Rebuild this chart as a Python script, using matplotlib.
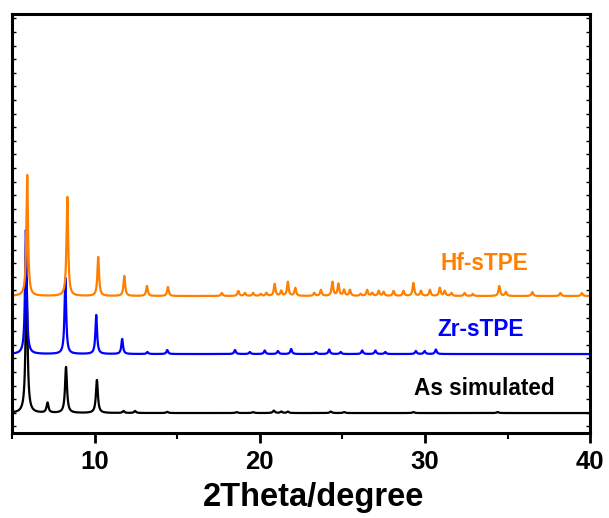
import numpy as np
import matplotlib
matplotlib.use("Agg")
import matplotlib.pyplot as plt

# ---- data (peak positions in 2theta, relative intensities) ----
sim_pos = [5.88, 7.15, 8.27, 10.14, 11.75, 12.45, 14.4, 18.6, 19.6, 20.85, 21.3, 21.7, 24.3, 25.1, 29.3, 34.4]
sim_int = [135, 10, 46, 33, 2, 2, 1.2, 1, 1, 2.5, 1.5, 1.5, 1.5, 1, 1, 1]

zr_pos = [5.84, 8.23, 10.1, 11.67, 13.2, 14.4, 18.5, 19.4, 20.3, 21.1, 21.9, 23.4, 24.2, 24.9, 26.2, 27.0, 27.6, 29.45, 29.98, 30.66]
zr_int = [124, 76, 39, 15, 2, 4, 4, 2, 3.5, 3, 5, 2, 4.5, 2, 3.5, 3.5, 2, 3, 3, 4.5]

hf_pos = [5.92, 8.35, 10.22, 11.8, 13.17, 14.44, 17.7, 18.7, 19.1, 19.6, 20.05, 20.4, 20.9, 21.3, 21.7, 22.15,
          23.3, 23.7, 24.4, 24.76, 25.1, 25.46, 26.1, 26.5, 26.8, 27.2, 27.5, 28.1, 28.7, 29.3, 29.76, 30.3,
          30.9, 31.2, 31.6, 32.4, 32.9, 34.5, 34.9, 36.5, 38.2, 39.5]
hf_int = [121, 99, 39, 20, 10, 9, 3, 5, 3, 3, 2, 3, 12, 5, 14, 8,
          3, 6, 14, 12, 6, 6, 2, 6, 3, 5, 4, 5, 5, 13, 5, 6,
          8, 5, 3, 3, 2, 10, 4, 4, 3, 3]

baselines = {"sim": 20, "zr": 79, "hf": 137}
labels = ["As simulated", "Zr-sTPE", "Hf-sTPE"]
colors = ["#000000", "#0000FF", "#FF8000"]

x = np.linspace(5, 40, 7001)

def pattern(pos, inten, hw):
    y = np.zeros_like(x)
    for p, h in zip(pos, inten):
        y += h * hw**2 / ((x - p)**2 + hw**2)
    return y

fig = plt.figure(figsize=(6.09, 5.18), dpi=100)
ax = fig.add_axes([0.0197, 0.164, 0.9493, 0.809])

ax.plot(x, baselines["sim"] + pattern(sim_pos, sim_int, 0.07), color=colors[0], lw=1.6)
ax.plot(x, baselines["zr"] + pattern(zr_pos, zr_int, 0.06), color=colors[1], lw=1.6)
ax.plot(x, baselines["hf"] + pattern(hf_pos, hf_int, 0.06), color=colors[2], lw=1.6)

font = "Liberation Sans"
ax.text(33.6, 45, labels[0], color=colors[0], fontsize=16.3, fontweight="bold", family=font, ha="center", va="center")
ax.text(33.35, 104, labels[1], color=colors[1], fontsize=16.3, fontweight="bold", family=font, ha="center", va="center")
ax.text(33.6, 170, labels[2], color=colors[2], fontsize=16.3, fontweight="bold", family=font, ha="center", va="center")

ax.set_xlim(5, 40)
ax.set_ylim(0, 419)
ax.set_xticks([10, 20, 30, 40])
ax.set_xticks([5, 15, 25, 35], minor=True)
ax.set_xticklabels(["10", "20", "30", "40"], fontsize=18.5, fontweight="bold", family=font)
ax.tick_params(axis="x", which="major", direction="out", length=7, width=2, pad=5)
ax.tick_params(axis="x", which="minor", direction="out", length=4, width=1.5)
ax.set_yticks(np.arange(6.6, 419, 13.6))
ax.tick_params(axis="y", which="major", direction="in", length=3, width=1, left=True, right=True, labelleft=False)
ax.set_xlabel("2Theta/degree", fontsize=23.5, fontweight="bold", family=font)
ax.xaxis.set_label_coords(0.521, -0.118)
for s in ax.spines.values():
    s.set_linewidth(2.2)

fig.savefig("out.png", dpi=100)
